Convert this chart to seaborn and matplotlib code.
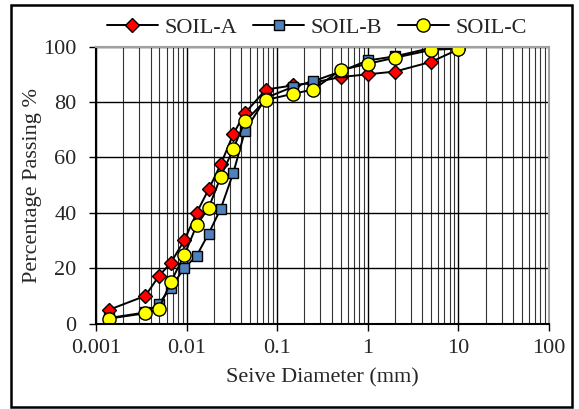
import matplotlib
matplotlib.use('Agg')
import matplotlib.pyplot as plt
from matplotlib.patches import Rectangle
from matplotlib.ticker import LogLocator, FuncFormatter, MultipleLocator
import numpy as np
import pandas as pd
import seaborn as sns

# sieve / hydrometer diameters (mm)
diameter = [0.0014, 0.0035, 0.0049, 0.0067, 0.0094, 0.0129, 0.0175, 0.0238, 0.0328,
            0.044, 0.075, 0.15, 0.25, 0.5, 1, 2, 5, 10]
soil_a = [5, 10, 17, 22, 30, 40, 48.5, 57.5, 68.5, 76, 84.5, 86, 87, 89, 90, 91, 94.5, 99]
soil_b = [2, 4, 7, 13, 20, 24.5, 32.5, 41.5, 54.5, 69.5, 81.5, 85.5, 87.5, 91, 95, 96.5, 99.5, 99.5]
soil_c = [1.8, 3.7, 5.2, 15, 24.7, 35.5, 41.8, 53, 63.2, 73, 80.7, 83, 84.5, 91.5, 93.8, 96, 98.8, 99.3]
names = ['SOIL-A', 'SOIL-B', 'SOIL-C']

sns.set_style('white')
plt.rcParams['font.family'] = ['Liberation Serif', 'DejaVu Serif']
fs = 16

fig = plt.figure(figsize=(5.79, 4.09), dpi=100)
ax = fig.add_axes([0.166, 0.209, 0.782, 0.677])

styles = [
    dict(marker='D', markersize=7, markerfacecolor='#FF0000'),
    dict(marker='s', markersize=7, markerfacecolor='#4F81BD'),
    dict(marker='o', markersize=9.5, markerfacecolor='#FFFF00'),
]
for name, vals, st in zip(names, [soil_a, soil_b, soil_c], styles):
    df = pd.DataFrame({'d': diameter, 'p': vals})
    sns.lineplot(data=df, x='d', y='p', ax=ax, sort=False, color='black', linewidth=1.4,
                 markeredgecolor='black', markeredgewidth=1, label=name, **st)

ax.set_xscale('log')
ax.set_xlim(0.001, 100)
ax.set_ylim(0, 100)
ax.xaxis.set_major_locator(LogLocator(base=10, numticks=10))
ax.xaxis.set_minor_locator(LogLocator(base=10, subs=np.arange(2, 10), numticks=20))
ax.xaxis.set_major_formatter(FuncFormatter(lambda v, p: '%g' % v))
ax.yaxis.set_major_locator(MultipleLocator(20))

ax.grid(True, which='major', axis='both', color='black', linewidth=1)
ax.grid(True, which='minor', axis='x', color='#333333', linewidth=0.8)
ax.set_axisbelow(True)

ax.tick_params(which='major', direction='out', length=5, width=1, color='black',
               labelsize=fs, bottom=True, left=True)
ax.tick_params(axis='x', pad=6)
ax.tick_params(axis='y', pad=9)
ax.tick_params(which='minor', length=0)

for s in ['left', 'bottom']:
    ax.spines[s].set_color('black')
    ax.spines[s].set_linewidth(1.5)
for s in ['top', 'right']:
    ax.spines[s].set_color('#A0A0A0')
    ax.spines[s].set_linewidth(1.5)

ax.set_xlabel('Seive Diameter (mm)', fontsize=fs)
ax.set_ylabel('Percentage Passing %', fontsize=fs)
ax.xaxis.set_label_coords(0.5, -0.16)
ax.yaxis.set_label_coords(-0.12, 0.5)

ax.get_legend().remove()
handles, labels = ax.get_legend_handles_labels()
fig.legend(handles, labels, loc='center', bbox_to_anchor=(317 / 579, 1 - 28 / 409), ncol=3,
           frameon=False, fontsize=fs, handlelength=2.3, columnspacing=0.7,
           handletextpad=0.3, borderaxespad=0)

fig.patches.append(Rectangle((10.5 / 579, 2 / 409), 561 / 579, 402 / 409, transform=fig.transFigure,
                             fill=False, edgecolor='black', linewidth=1.8))

fig.savefig('out.png', dpi=100)
plt.close()
